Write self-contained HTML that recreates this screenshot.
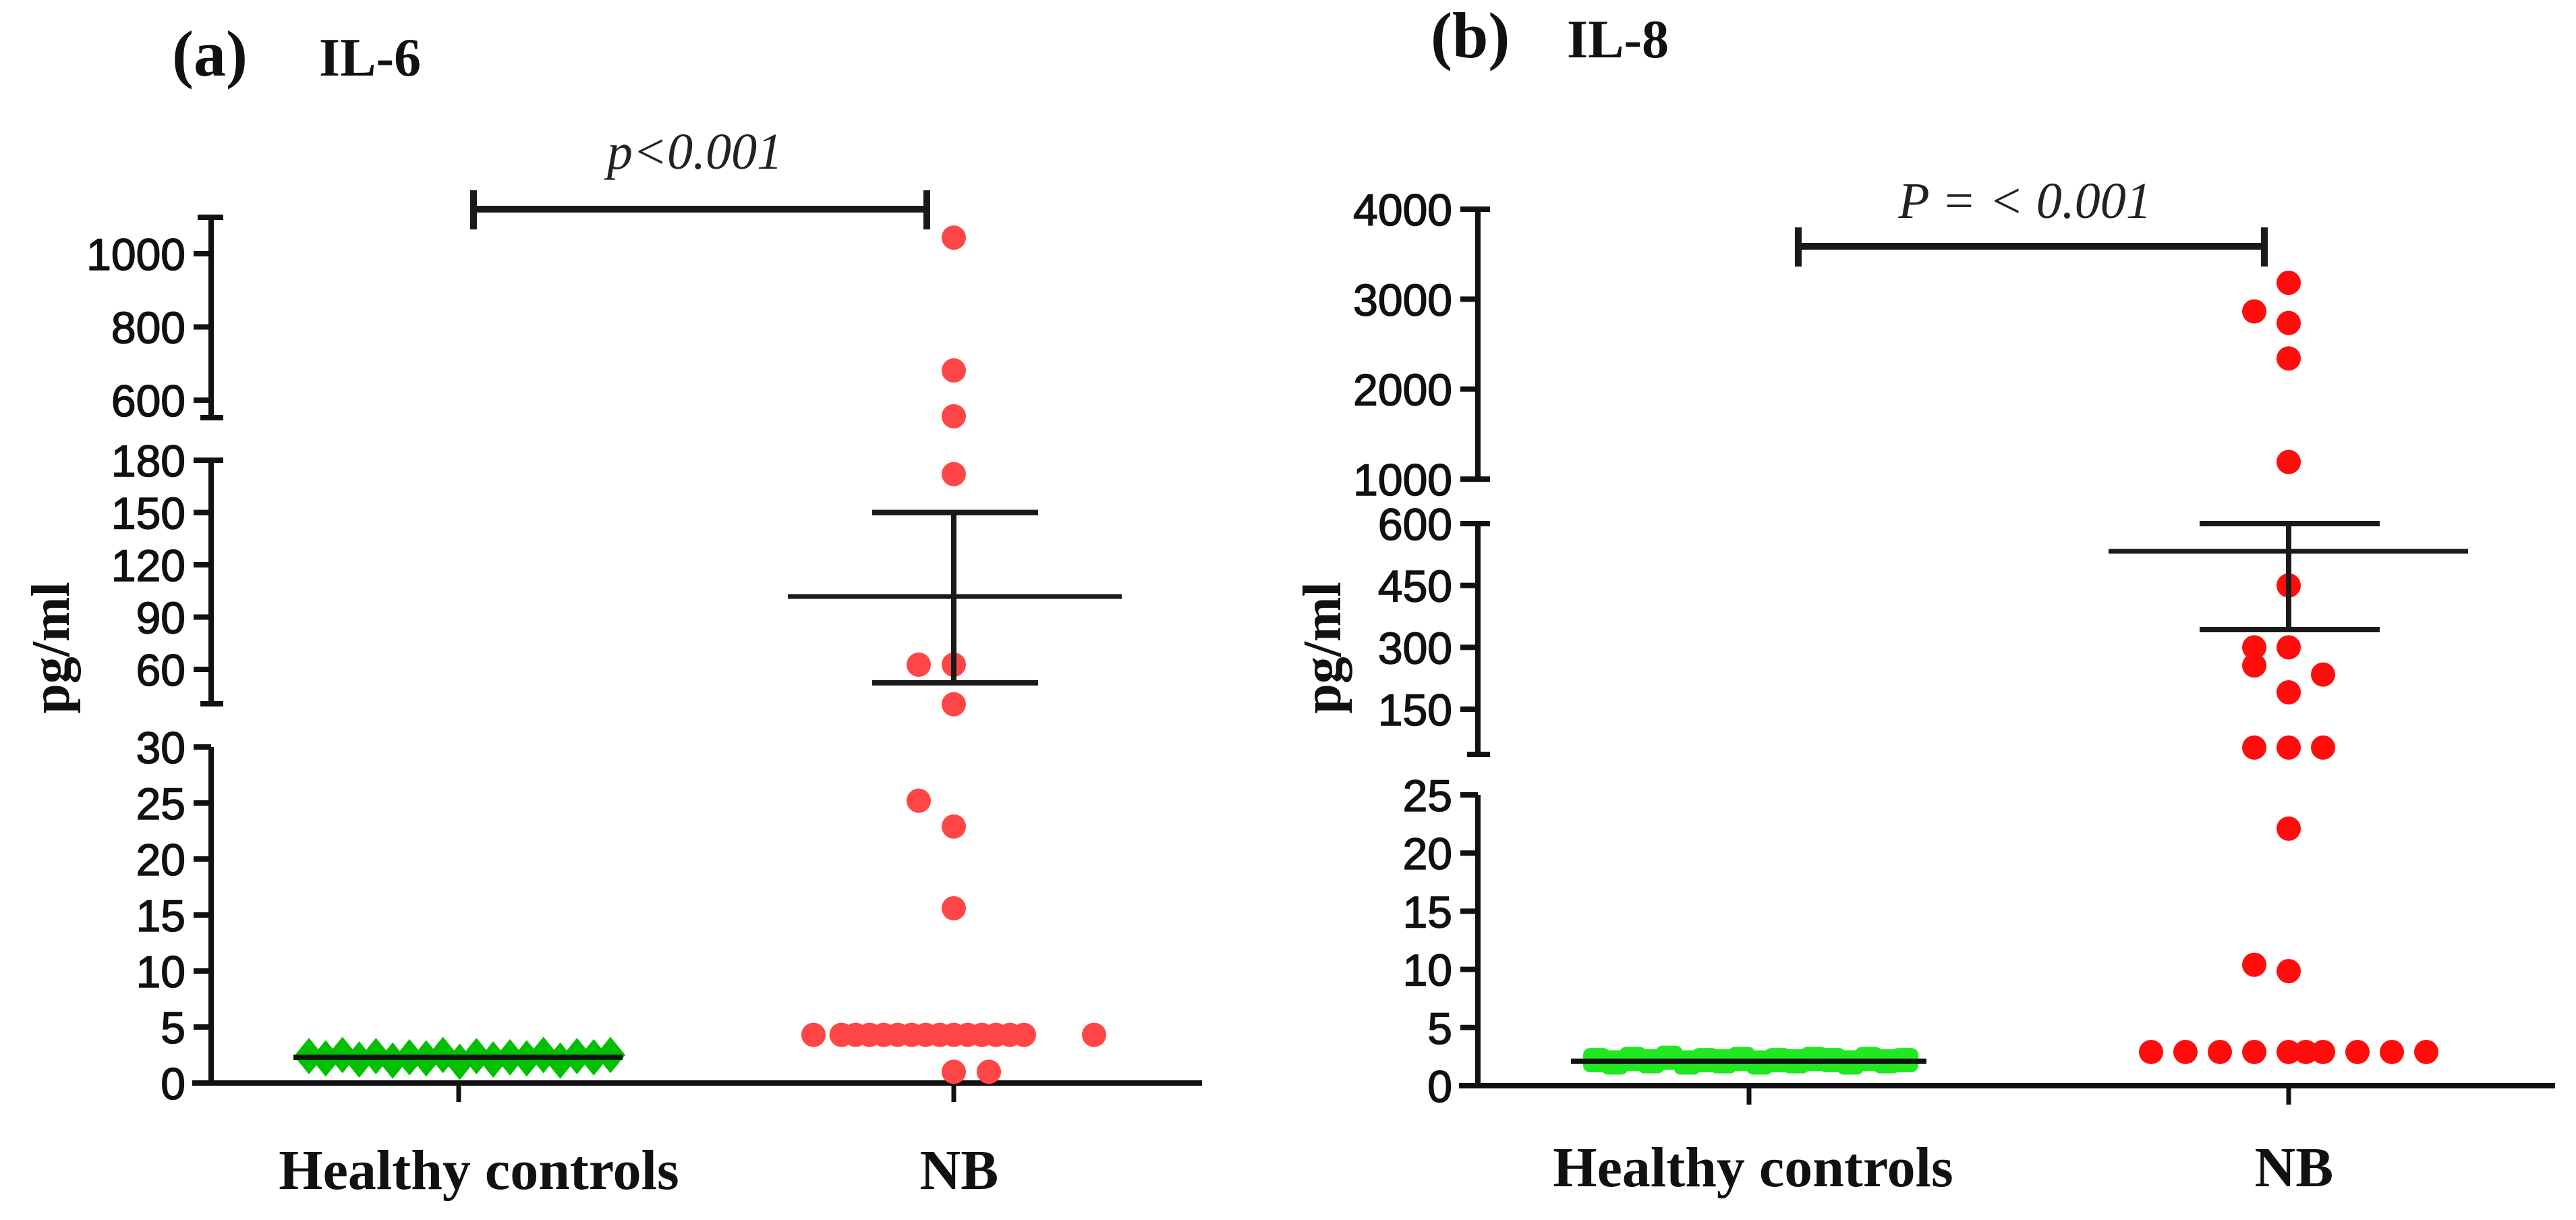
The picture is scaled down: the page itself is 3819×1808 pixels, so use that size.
<!DOCTYPE html>
<html><head><meta charset="utf-8"><style>
html,body{margin:0;padding:0;background:#fff;}
svg{display:block;}
.tick{font-family:"Liberation Sans",Arial,sans-serif;font-size:66px;fill:#111;stroke:#111;stroke-width:1.5px;}
.ser{font-family:"Liberation Serif",serif;font-weight:bold;fill:#111;}
</style></head><body>
<svg id="chart" width="3819" height="1808" viewBox="0 0 3819 1808" xmlns="http://www.w3.org/2000/svg"></svg>
<script>
// ---- Panel A (IL-6) data ----
const categoriesA = ["Healthy controls", "NB"];
const hcValuesA = [2.4,2.2,2.5,2.1,2.4,2.0,2.3,2.2,2.5,1.9,2.4,2.1,2.3,2.2,2.5,2.0,2.4,2.3,2.5];
const nbValuesA = [1044,681,556,172,62.7,62.7,40,25.2,22.9,15.6,4.3,4.3,4.3,4.3,4.3,4.3,4.3,4.3,4.3,4.3,4.3,4.3,4.3,4.3,4.3,4.3,1.0,1.0];
const nbOffsetsA = [0,0,0,0,-1,0,0,-1,0,0,-4,-3.2,-2.8,-2.4,-2,-1.6,-1.2,-0.8,-0.4,0,0.4,0.8,1.2,1.6,2,4,0,1];
const statsA = {mean:101.8, upper:150, lower:52.3, hcMean:2.3};
const ticksA = [[0,5,10,15,20,25,30],[60,90,120,150,180],[600,800,1000]];
// ---- Panel B (IL-8) data ----
const categoriesB = ["Healthy controls", "NB"];
const hcValuesB = [2.2,2.0,2.3,2.1,2.4,2.0,2.2,2.1,2.3,2.0,2.2,2.1,2.3,2.2,2.0,2.3,2.1,2.2];
const nbValuesB = [3182,2864,2735,2341,1190,450,300,300,256,234,191,57,57,57,22.1,10.4,9.85,2.9,2.9,2.9,2.9,2.9,2.9,2.9,2.9,2.9,2.9];
const nbOffsetsB = [0,-1,0,0,0,0,-1,0,-1,1,0,-1,0,1,0,-1,0,-4,-3,-2,-1,0,0.5,1,2,3,4];
const statsB = {mean:533, upper:600, lower:343, hcMean:2.1};
const ticksB = [[0,5,10,15,20,25],[150,300,450,600],[1000,2000,3000,4000]];

const NS="http://www.w3.org/2000/svg";
const svg=document.getElementById('chart');
function mk(tag,attrs,parent){const e=document.createElementNS(NS,tag);for(const k in attrs)e.setAttribute(k,attrs[k]);(parent||svg).appendChild(e);return e;}
function seg(s,v){return s.y0-(v-s.v0)*(s.y0-s.y1)/(s.v1-s.v0);}
function makeY(segs){return v=>{for(const s of segs){if(v<=s.vmaxAxis)return seg(s,v);}return seg(segs[segs.length-1],v);};}

function panel(cfg){
  const g=mk('g',{});
  
  
  const y=makeY(cfg.segs);
  const xs=[cfg.xHC,cfg.xNB];
  cfg.segs.forEach((s,i)=>{
    const l=mk('line',{x1:cfg.ax,x2:cfg.ax,y1:s.top,y2:s.bottom,stroke:'#111','stroke-width':8},g);
    
    
    if(i>0){const c=mk('line',{x1:cfg.ax-16,x2:cfg.ax+18,y1:s.bottom,y2:s.bottom,stroke:'#111','stroke-width':8},g);
      
      const c2=mk('line',{x1:cfg.ax-20,x2:cfg.ax+18,y1:s.top,y2:s.top,stroke:'#111','stroke-width':8},g);
      }
    cfg.ticks[i].forEach(t=>{
      const ty=seg(s,t);
      const tl=mk('line',{x1:cfg.ax-26,x2:cfg.ax,y1:ty,y2:ty,stroke:'#111','stroke-width':8},g);
      
      const tx=mk('text',{x:cfg.ax-38,y:ty+24,'text-anchor':'end',class:'tick'},g);
      tx.textContent=t;
      
    });
  });
  const xa=mk('line',{x1:cfg.ax-28,x2:cfg.xEnd,y1:cfg.x0y,y2:cfg.x0y,stroke:'#111','stroke-width':8},g);
  
  xs.forEach((x,i)=>{
    const t=mk('line',{x1:x,x2:x,y1:cfg.x0y,y2:cfg.x0y+28,stroke:'#111','stroke-width':7},g);
    
    const lb=mk('text',{x:x+(i===0?cfg.hcLabelDx:8),y:cfg.labelY,'text-anchor':'middle',class:'ser','font-size':84},g);
    lb.textContent=cfg.cats[i];
    
  });
  const n=cfg.hc.length;
  cfg.hc.forEach((v,i)=>{
    const cx=cfg.hcX0+(cfg.hcX1-cfg.hcX0)*i/(n-1);const cy=y(v);
    let m;
    if(cfg.hcShape==='diamond'){
      m=mk('polygon',{points:`${cx},${cy-27} ${cx+22},${cy} ${cx},${cy+27} ${cx-22},${cy}`,fill:cfg.green},g);
    }else{
      m=mk('rect',{x:cx-20,y:cy-18,width:40,height:36,rx:10,fill:cfg.green},g);
    }
    
  });
  const hm=mk('line',{x1:cfg.hcMeanX0,x2:cfg.hcMeanX1,y1:y(cfg.stats.hcMean),y2:y(cfg.stats.hcMean),stroke:'#111','stroke-width':8},g);
  
  cfg.nb.forEach((v,i)=>{
    const c=mk('circle',{cx:cfg.xNB+cfg.off[i]*cfg.dotStep,cy:y(v),r:18,fill:cfg.red},g);
    
  });
  const st=cfg.stats;
  const add=(x1,x2,y1,y2,name,w)=>{const l=mk('line',{x1,x2,y1,y2,stroke:'#1a1a1a','stroke-width':w||7},g);};
  add(cfg.xNB,cfg.xNB,y(st.upper),y(st.lower),'sem-error-bar',8);
  add(cfg.meanX0,cfg.meanX1,y(st.mean),y(st.mean),'nb-mean-line');
  add(cfg.semX0,cfg.semX1,y(st.upper),y(st.upper),'sem-upper-cap',8);
  add(cfg.semX0,cfg.semX1,y(st.lower),y(st.lower),'sem-lower-cap',8);
  const sb=cfg.sig;
  add(sb.x0,sb.x1,sb.y,sb.y,'significance-bar',10);
  add(sb.x0,sb.x0,sb.y-28,sb.y+30,'significance-bar-cap',10);
  add(sb.x1,sb.x1,sb.y-28,sb.y+30,'significance-bar-cap',10);
  const pt=mk('text',{x:sb.tx,y:sb.ty,'text-anchor':'middle','font-family':'"Liberation Serif",serif','font-style':'italic','font-size':76,fill:'#222'},g);
  pt.textContent=sb.text;
  const t1=mk('text',{x:cfg.titleX,y:cfg.titleY,class:'ser','font-size':96},g);t1.textContent=cfg.letter;
  
  const t2=mk('text',{x:cfg.titleX2,y:cfg.titleY,class:'ser','font-size':80},g);t2.textContent=cfg.title;
  
  const yl=mk('text',{x:0,y:0,class:'ser','font-size':80,'text-anchor':'middle',transform:`translate(${cfg.ylX},${cfg.ylY}) rotate(-90)`},g);
  yl.textContent='pg/ml';
}

panel({name:'panel-a-il6',cats:categoriesA,hc:hcValuesA,nb:nbValuesA,off:nbOffsetsA,stats:statsA,ticks:ticksA,
  ax:313,x0y:1605,xEnd:1782,xHC:680,xNB:1414,hcLabelDx:30,labelY:1762,
  segs:[{v0:0,v1:30,y0:1605,y1:1107,vmaxAxis:35,top:1107,bottom:1605},
        {v0:60,v1:180,y0:992,y1:682,vmaxAxis:400,top:682,bottom:1043},
        {v0:600,v1:1000,y0:593,y1:376,vmaxAxis:1e9,top:322,bottom:619}],
  hcShape:'diamond',green:'#00c000',red:'#ff4545',
  hcX0:458,hcX1:905,hcMeanX0:435,hcMeanX1:923,dotStep:52,
  meanX0:1168,meanX1:1663,semX0:1293,semX1:1539,
  sig:{x0:702,x1:1374,y:310,tx:1030,ty:250,text:'p<0.001'},
  titleX:255,titleX2:473,titleY:112,letter:'(a)',title:'IL-6',ylX:102,ylY:960});

panel({name:'panel-b-il8',cats:categoriesB,hc:hcValuesB,nb:nbValuesB,off:nbOffsetsB,stats:statsB,ticks:ticksB,
  ax:2191,x0y:1609,xEnd:3788,xHC:2593,xNB:3393,hcLabelDx:6,labelY:1758,
  segs:[{v0:0,v1:25,y0:1609,y1:1178,vmaxAxis:30,top:1178,bottom:1609},
        {v0:150,v1:600,y0:1051,y1:776,vmaxAxis:800,top:776,bottom:1118},
        {v0:1000,v1:4000,y0:710,y1:310,vmaxAxis:1e9,top:310,bottom:710}],
  hcShape:'rect',green:'#22e822',red:'#ff0d0d',
  hcX0:2367,hcX1:2824,hcMeanX0:2329,hcMeanX1:2856,dotStep:51,
  meanX0:3126,meanX1:3659,semX0:3261,semX1:3528,
  sig:{x0:2666,x1:3357,y:365,tx:3002,ty:323,text:'P = < 0.001'},
  titleX:2121,titleX2:2323,titleY:85,letter:'(b)',title:'IL-8',ylX:1987,ylY:960});
</script>
</body></html>
